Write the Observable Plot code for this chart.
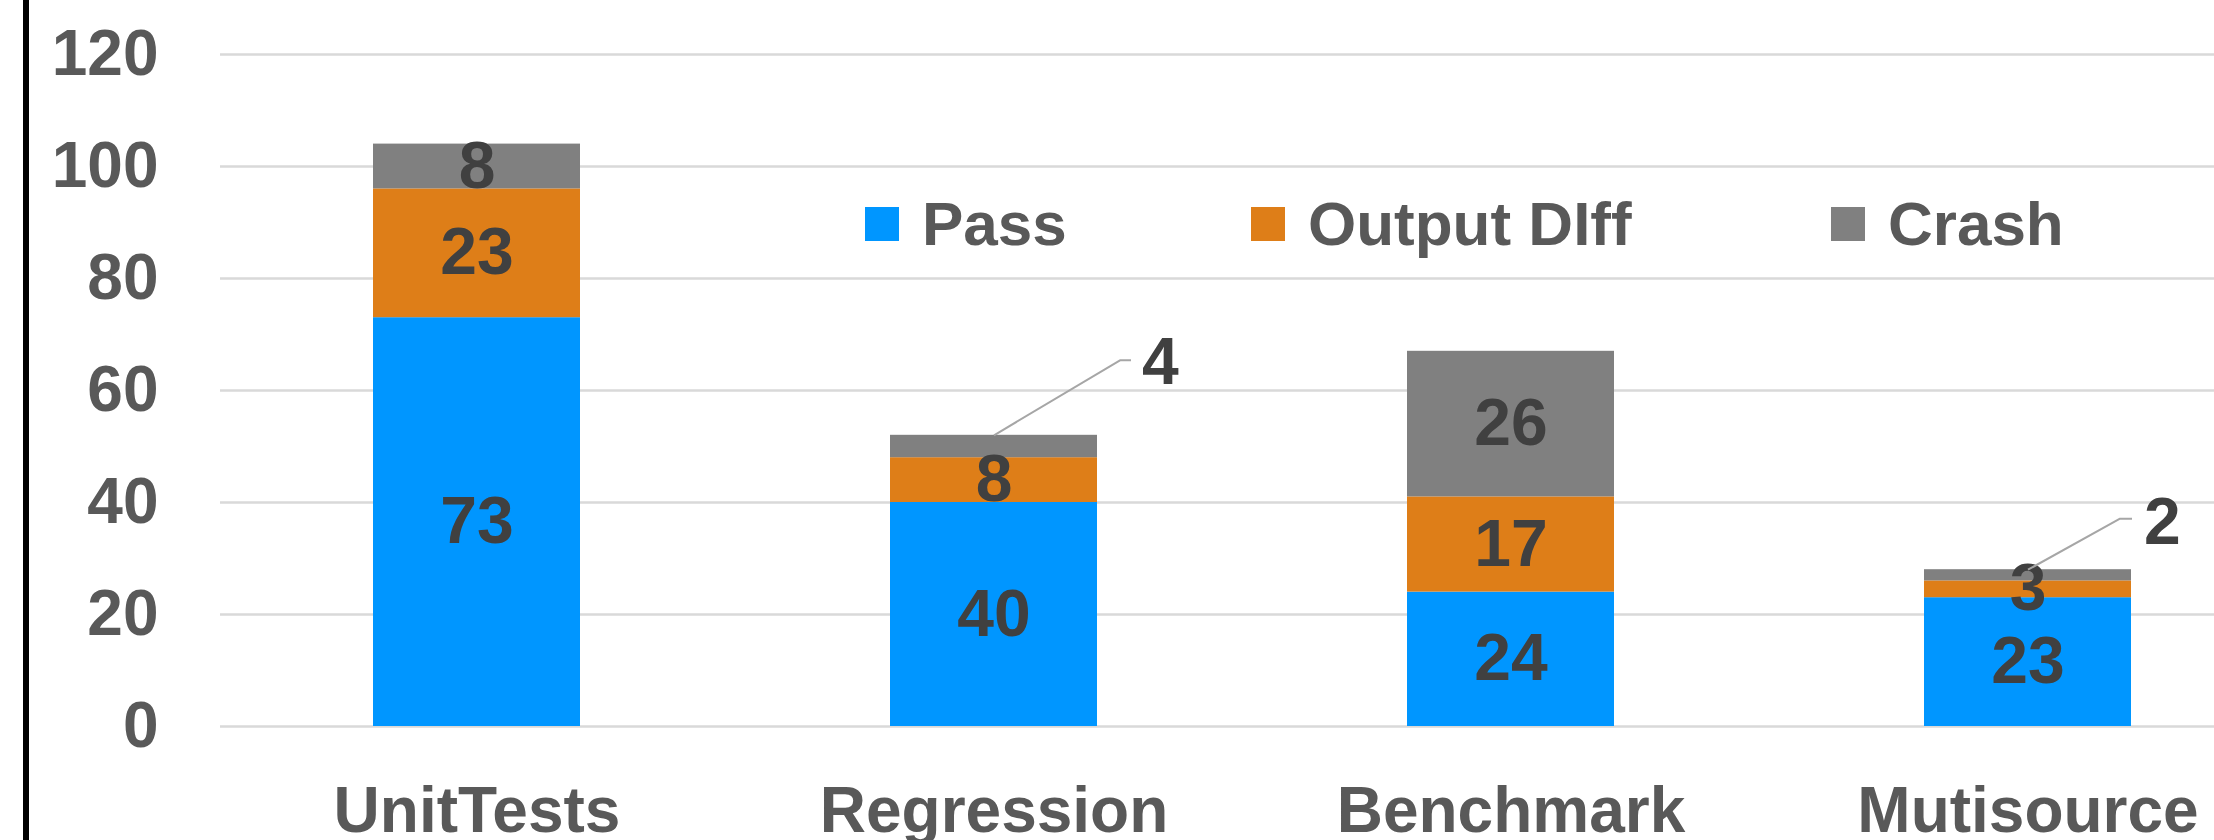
<!DOCTYPE html>
<html>
<head>
<meta charset="utf-8">
<script src="https://cdn.jsdelivr.net/npm/d3@7"></script>
<script src="https://cdn.jsdelivr.net/npm/@observablehq/plot@0.6"></script>
<style>
  html, body { margin: 0; padding: 0; background: #fff; }
  #wrap { position: relative; width: 2214px; height: 840px; overflow: hidden; background: #fff; }
  #border { position: absolute; left: 23px; top: 0; width: 6px; height: 840px; background: #000; }
  #chart svg { display: block; }
  #chart g[aria-label^="x-axis"] text, #chart g[aria-label^="y-axis"] text {
    font-size: 64px; font-weight: 700; fill: #595959;
    font-family: "Liberation Sans", Arial, sans-serif;
  }
  .leg { position: absolute; top: 184px; height: 80px; display: flex; align-items: center;
    font-family: "Liberation Sans", Arial, sans-serif; font-weight: 700; font-size: 62px; color: #595959; line-height: 1; white-space: nowrap; }
  .leg .sw { width: 34px; height: 34px; margin-right: 23px; flex: none; }
</style>
</head>
<body>
<div id="wrap">
  <div id="chart"></div>
  <div id="border"></div>
  <div id="legend"></div>
</div>
<script>
// ---- data ----
const categories = ["UnitTests", "Regression", "Benchmark", "Mutisource"];
const seriesNames = ["Pass", "Output DIff", "Crash"];
const pass = [73, 40, 24, 23];
const outputDiff = [23, 8, 17, 3];
const crash = [8, 4, 26, 2];
const yTicks = [0, 20, 40, 60, 80, 100, 120];
const seriesColors = ["#0096FF", "#DE7E18", "#808080"];
// segments whose label is drawn outside with a leader line
const calloutCategories = ["Regression", "Mutisource"];

// ---- tidy table ----
const seriesValues = [pass, outputDiff, crash];
const rows = [];
categories.forEach((c, ci) => {
  seriesNames.forEach((s, si) => {
    rows.push({category: c, series: s, value: seriesValues[si][ci],
      callout: si === 2 && calloutCategories.includes(c)});
  });
});
const totals = categories.map((c, ci) => ({category: c, total: pass[ci] + outputDiff[ci] + crash[ci], label: crash[ci]}));

// leader-line curve: from anchor, diagonal to elbow, then short horizontal
function elbow(dx1, dy1, dx2) {
  return (context) => {
    let first = true;
    return {
      areaStart() {}, areaEnd() {},
      lineStart() { first = true; },
      lineEnd() {},
      point(x, y) {
        if (first) {
          context.moveTo(x, y);
          context.lineTo(x + dx1, y + dy1);
          context.lineTo(x + dx2, y + dy1);
          first = false;
        }
      }
    };
  };
}
const calloutStyle = {
  Regression: {dx1: 126, dy1: -75, dx2: 137, tdx: 148, tdy: -72},
  Mutisource: {dx1: 92, dy1: -51, dx2: 104, tdx: 116, tdy: -47}
};

const calloutMarks = [];
for (const c of calloutCategories) {
  const st = calloutStyle[c];
  const d = totals.filter(t => t.category === c);
  calloutMarks.push(Plot.link(d, {x1: "category", x2: "category", y1: "total", y2: "total",
    stroke: "#a6a6a6", strokeWidth: 2, curve: elbow(st.dx1, st.dy1, st.dx2)}));
  calloutMarks.push(Plot.text(d, {x: "category", y: "total", text: "label", dx: st.tdx, dy: st.tdy,
    textAnchor: "start", fontSize: 66, fontWeight: "bold", fill: "#404040"}));
}

const plot = Plot.plot({
  width: 2214,
  height: 840,
  marginLeft: 220,
  marginRight: 0,
  marginTop: 54,
  marginBottom: 114,
  style: {fontFamily: "'Liberation Sans', Arial, sans-serif", fontWeight: "bold", background: "transparent", overflow: "visible"},
  x: {domain: categories, range: [217.5, 2285.5], paddingInner: 0.6, paddingOuter: 0.3,
      tickSize: 0, tickPadding: 60, label: null},
  y: {domain: [0, 120], ticks: yTicks, tickSize: 0, tickPadding: 62, label: null, tickFormat: d => String(d)},
  color: {domain: seriesNames, range: seriesColors},
  marks: [
    Plot.ruleY(yTicks, {stroke: "#d9d9d9", strokeWidth: 2.5}),
    Plot.barY(rows, {x: "category", y: "value", z: "series", fill: "series", order: seriesNames}),
    Plot.text(rows, Plot.stackY({x: "category", y: "value", z: "series", order: seriesNames,
      text: d => d.callout ? "" : String(d.value),
      fontSize: 66, fontWeight: "bold", fill: "#404040"})),
    ...calloutMarks
  ]
});
document.getElementById("chart").appendChild(plot);

// ---- legend (over the plot area) ----
const legendLefts = [865, 1251, 1831];
const legend = document.getElementById("legend");
seriesNames.forEach((s, i) => {
  const item = document.createElement("div");
  item.className = "leg";
  item.style.left = legendLefts[i] + "px";
  const sw = document.createElement("span");
  sw.className = "sw";
  sw.style.background = seriesColors[i];
  const tx = document.createElement("span");
  tx.textContent = s;
  item.appendChild(sw);
  item.appendChild(tx);
  legend.appendChild(item);
});
</script>
</body>
</html>
